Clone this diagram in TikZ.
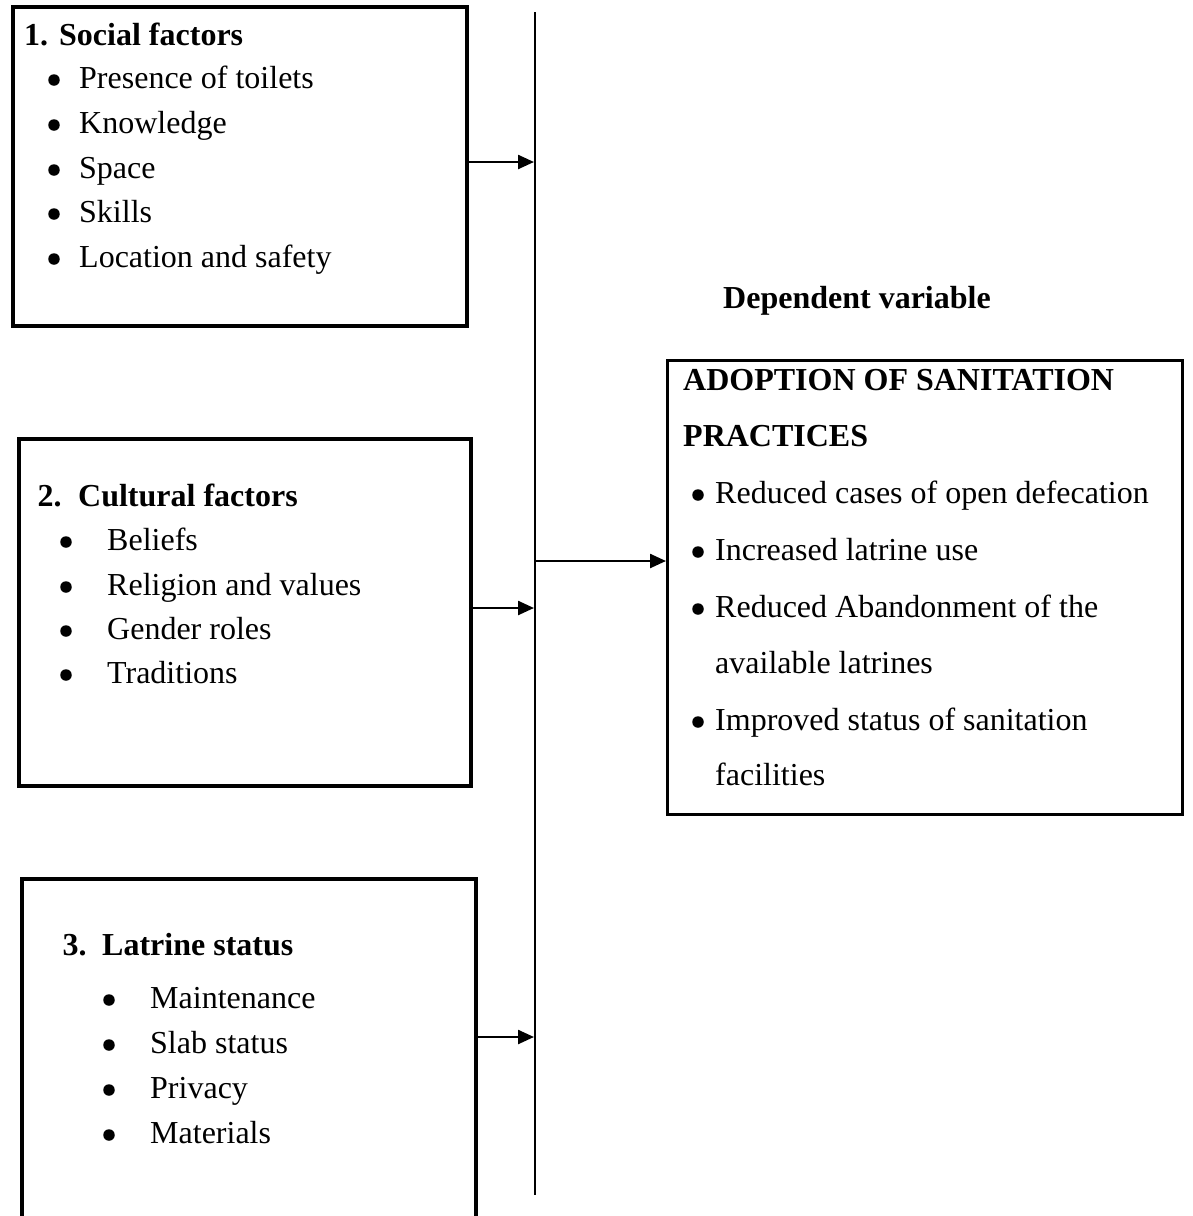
\documentclass[tikz,border=0pt]{standalone}
\usepackage{fontspec}
\setmainfont{Liberation Serif}
\usetikzlibrary{arrows.meta}
\begin{document}
\begin{tikzpicture}[x=1pt,y=-1pt,
  frame/.style={draw, line width=4pt, inner sep=0pt, outer sep=2pt},
  frameb/.style={draw, line width=3pt, inner sep=0pt, outer sep=1.5pt},
  txt/.style={anchor=base west, inner sep=0pt, font=\fontsize{32}{38}\selectfont},
  btxt/.style={anchor=base west, inner sep=0pt, font=\fontsize{32}{38}\selectfont\bfseries},
  dot/.style={circle, fill, inner sep=0pt, minimum size=11.5pt},
  arr/.style={line width=2.4pt, -{Triangle[length=16pt,width=14pt]}},
  vline/.style={line width=2pt},
]
\clip (0,0) rectangle (1192,1216);
\useasboundingbox (0,0) rectangle (1192,1216);

% boxes
\node[frame, minimum width=454pt, minimum height=319pt] (b1) at (240,166.5) {};
\node[frame, minimum width=452pt, minimum height=347pt] (b2) at (245,612.5) {};
\node[frame, minimum width=454pt, minimum height=349pt] (b3) at (249,1053.5) {};
\node[frameb, minimum width=515pt, minimum height=454pt] (b4) at (925,587.5) {};

% vertical line
\coordinate (vtop) at (535,12);
\coordinate (vbot) at (535,1195);
\draw[vline] (vtop) -- (vbot);
\coordinate (a1) at (534,162);
\coordinate (a2) at (534,608);
\coordinate (a3) at (534,1037);
\coordinate (am) at (535,561);

% arrows
\draw[arr] (b1.east |- a1) -- (a1);
\draw[arr] (b2.east |- a2) -- (a2);
\draw[arr] (b3.east |- a3) -- (a3);
\draw[arr] (am) -- (b4.west |- am);

% box 1
\node[btxt] (n1) at (24,45) {1.};
\node[btxt] (h1) at (59,45) {Social factors};
\node[dot] (p11) at (54,80) {};  \node[txt] (t11) at (79,88) {Presence of toilets};
\node[dot] (p12) at (54,125) {}; \node[txt] (t12) at (79,133) {Knowledge};
\node[dot] (p13) at (54,170) {}; \node[txt] (t13) at (79,178) {Space};
\node[dot] (p14) at (54,214) {}; \node[txt] (t14) at (79,222) {Skills};
\node[dot] (p15) at (54,259) {}; \node[txt] (t15) at (79,267) {Location and safety};

% box 2
\node[btxt] (n2) at (37.5,506) {2.};
\node[btxt] (h2) at (78,506) {Cultural factors};
\node[dot] (p21) at (66,542) {}; \node[txt] (t21) at (107,550) {Beliefs};
\node[dot] (p22) at (66,587) {}; \node[txt] (t22) at (107,595) {Religion and values};
\node[dot] (p23) at (66,631) {}; \node[txt] (t23) at (107,639) {Gender roles};
\node[dot] (p24) at (66,675) {}; \node[txt] (t24) at (107,683) {Traditions};

% box 3
\node[btxt] (n3) at (62.5,955) {3.};
\node[btxt] (h3) at (102,955) {Latrine status};
\node[dot] (p31) at (109,1000) {}; \node[txt] (t31) at (150,1008) {Maintenance};
\node[dot] (p32) at (109,1045) {}; \node[txt] (t32) at (150,1053) {Slab status};
\node[dot] (p33) at (109,1090) {}; \node[txt] (t33) at (150,1098) {Privacy};
\node[dot] (p34) at (109,1135) {}; \node[txt] (t34) at (150,1143) {Materials};

% dependent
\node[btxt] (dv) at (723,308) {Dependent variable};

% box 4
\node[btxt] (h4a) at (683,390) {ADOPTION OF SANITATION};
\node[btxt] (h4b) at (683,446) {PRACTICES};
\node[dot] (p41) at (698,495) {}; \node[txt] (t41) at (715,503) {Reduced cases of open defecation};
\node[dot] (p42) at (698,552) {}; \node[txt] (t42) at (715,560) {Increased latrine use};
\node[dot] (p43) at (698,609) {}; \node[txt] (t43) at (715,617) {Reduced Abandonment of the};
\node[txt] (t43b) at (715,673) {available latrines};
\node[dot] (p44) at (698,722) {}; \node[txt] (t44) at (715,730) {Improved status of sanitation};
\node[txt] (t44b) at (715,785) {facilities};
\end{tikzpicture}
\end{document}
